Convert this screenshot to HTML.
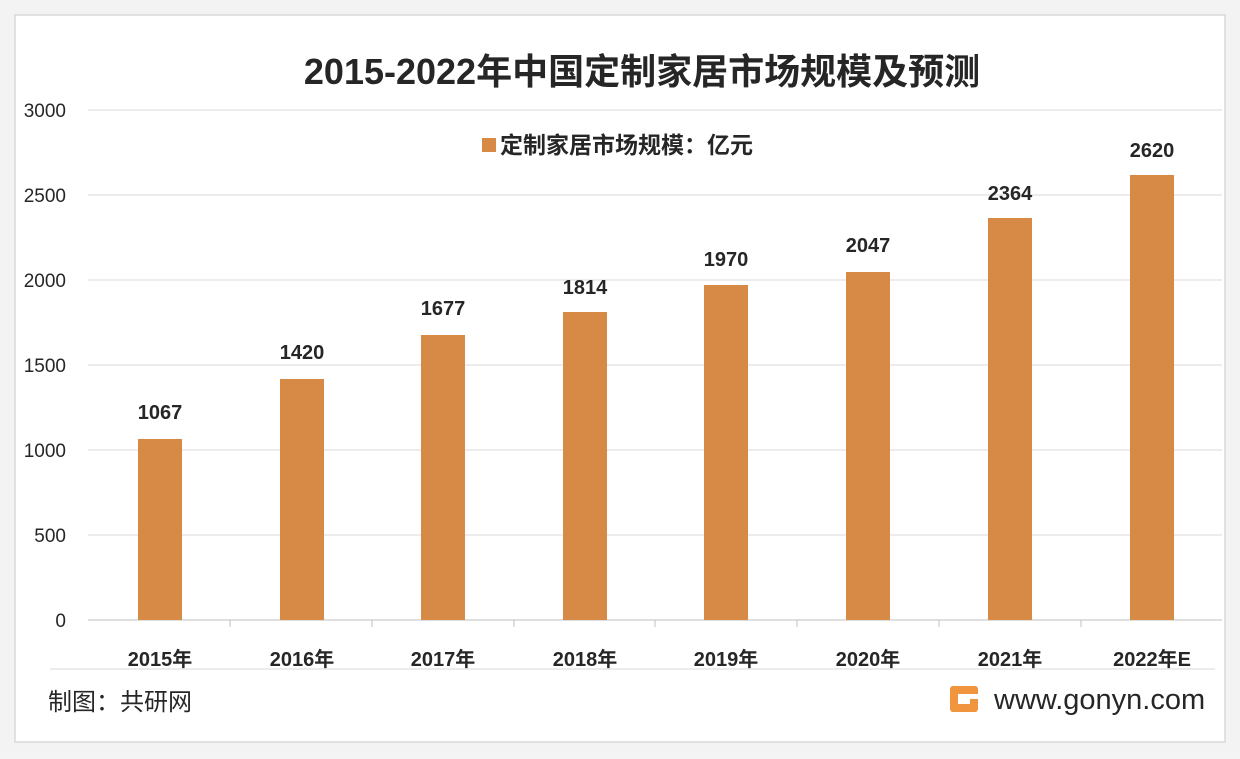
<!DOCTYPE html>
<html><head><meta charset="utf-8"><style>
body{margin:0;background:#f4f4f4;}
svg text{font-family:"Liberation Sans","Noto Sans CJK SC",sans-serif;}
</style></head><body>
<svg width="1240" height="754" xmlns="http://www.w3.org/2000/svg">
<rect x="0" y="0" width="1240" height="754" fill="#f3f3f3"/>
<rect x="15" y="15" width="1210" height="727" fill="#ffffff" stroke="#d9d9d9" stroke-width="1.5"/>
<text x="642" y="84" text-anchor="middle" font-size="36" font-weight="bold" fill="#262626">2015-2022年中国定制家居市场规模及预测</text>
<g stroke="#d9d9d9" stroke-width="1">
<line x1="88" y1="110" x2="1222" y2="110"/>
<line x1="88" y1="195" x2="1222" y2="195"/>
<line x1="88" y1="280" x2="1222" y2="280"/>
<line x1="88" y1="365" x2="1222" y2="365"/>
<line x1="88" y1="450" x2="1222" y2="450"/>
<line x1="88" y1="535" x2="1222" y2="535"/>
<line x1="88" y1="620" x2="1222" y2="620" stroke="#bfbfbf"/>
<line x1="230" y1="620" x2="230" y2="627" stroke="#bfbfbf"/>
<line x1="372" y1="620" x2="372" y2="627" stroke="#bfbfbf"/>
<line x1="514" y1="620" x2="514" y2="627" stroke="#bfbfbf"/>
<line x1="655" y1="620" x2="655" y2="627" stroke="#bfbfbf"/>
<line x1="797" y1="620" x2="797" y2="627" stroke="#bfbfbf"/>
<line x1="939" y1="620" x2="939" y2="627" stroke="#bfbfbf"/>
<line x1="1081" y1="620" x2="1081" y2="627" stroke="#bfbfbf"/>
<line x1="50" y1="669" x2="1215" y2="669"/>
</g>
<g font-size="19" fill="#262626" text-anchor="end">
<text x="66" y="117">3000</text><text x="66" y="202">2500</text><text x="66" y="287">2000</text>
<text x="66" y="372">1500</text><text x="66" y="457">1000</text><text x="66" y="542">500</text><text x="66" y="627">0</text>
</g>
<rect x="482" y="138" width="14" height="14" fill="#d68a45"/>
<text x="500" y="153" font-size="23" font-weight="bold" fill="#262626">定制家居市场规模：亿元</text>
<g fill="#d68a45">
<rect x="138" y="439" width="44" height="181"/>
<rect x="280" y="379" width="44" height="241"/>
<rect x="421" y="335" width="44" height="285"/>
<rect x="563" y="312" width="44" height="308"/>
<rect x="704" y="285" width="44" height="335"/>
<rect x="846" y="272" width="44" height="348"/>
<rect x="988" y="218" width="44" height="402"/>
<rect x="1130" y="175" width="44" height="445"/>
</g>
<g font-size="20" font-weight="bold" fill="#262626" text-anchor="middle">
<text x="160" y="419">1067</text><text x="302" y="359">1420</text><text x="443" y="315">1677</text>
<text x="585" y="294">1814</text><text x="726" y="266">1970</text><text x="868" y="252">2047</text>
<text x="1010" y="200">2364</text><text x="1152" y="157">2620</text>
</g>
<g font-size="20" font-weight="bold" fill="#262626" text-anchor="middle">
<text x="160" y="666">2015年</text><text x="302" y="666">2016年</text><text x="443" y="666">2017年</text>
<text x="585" y="666">2018年</text><text x="726" y="666">2019年</text><text x="868" y="666">2020年</text>
<text x="1010" y="666">2021年</text><text x="1152" y="666">2022年E</text>
</g>
<text x="48" y="710" font-size="24" fill="#262626">制图：共研网</text>
<rect x="950" y="686" width="28" height="26" rx="3" fill="#f0953e"/>
<rect x="958" y="694" width="20" height="5" fill="#fff"/>
<rect x="958" y="699" width="12" height="5" fill="#fff"/>
<text x="994" y="709" font-size="29" fill="#262626">www.gonyn.com</text>
</svg>
</body></html>
